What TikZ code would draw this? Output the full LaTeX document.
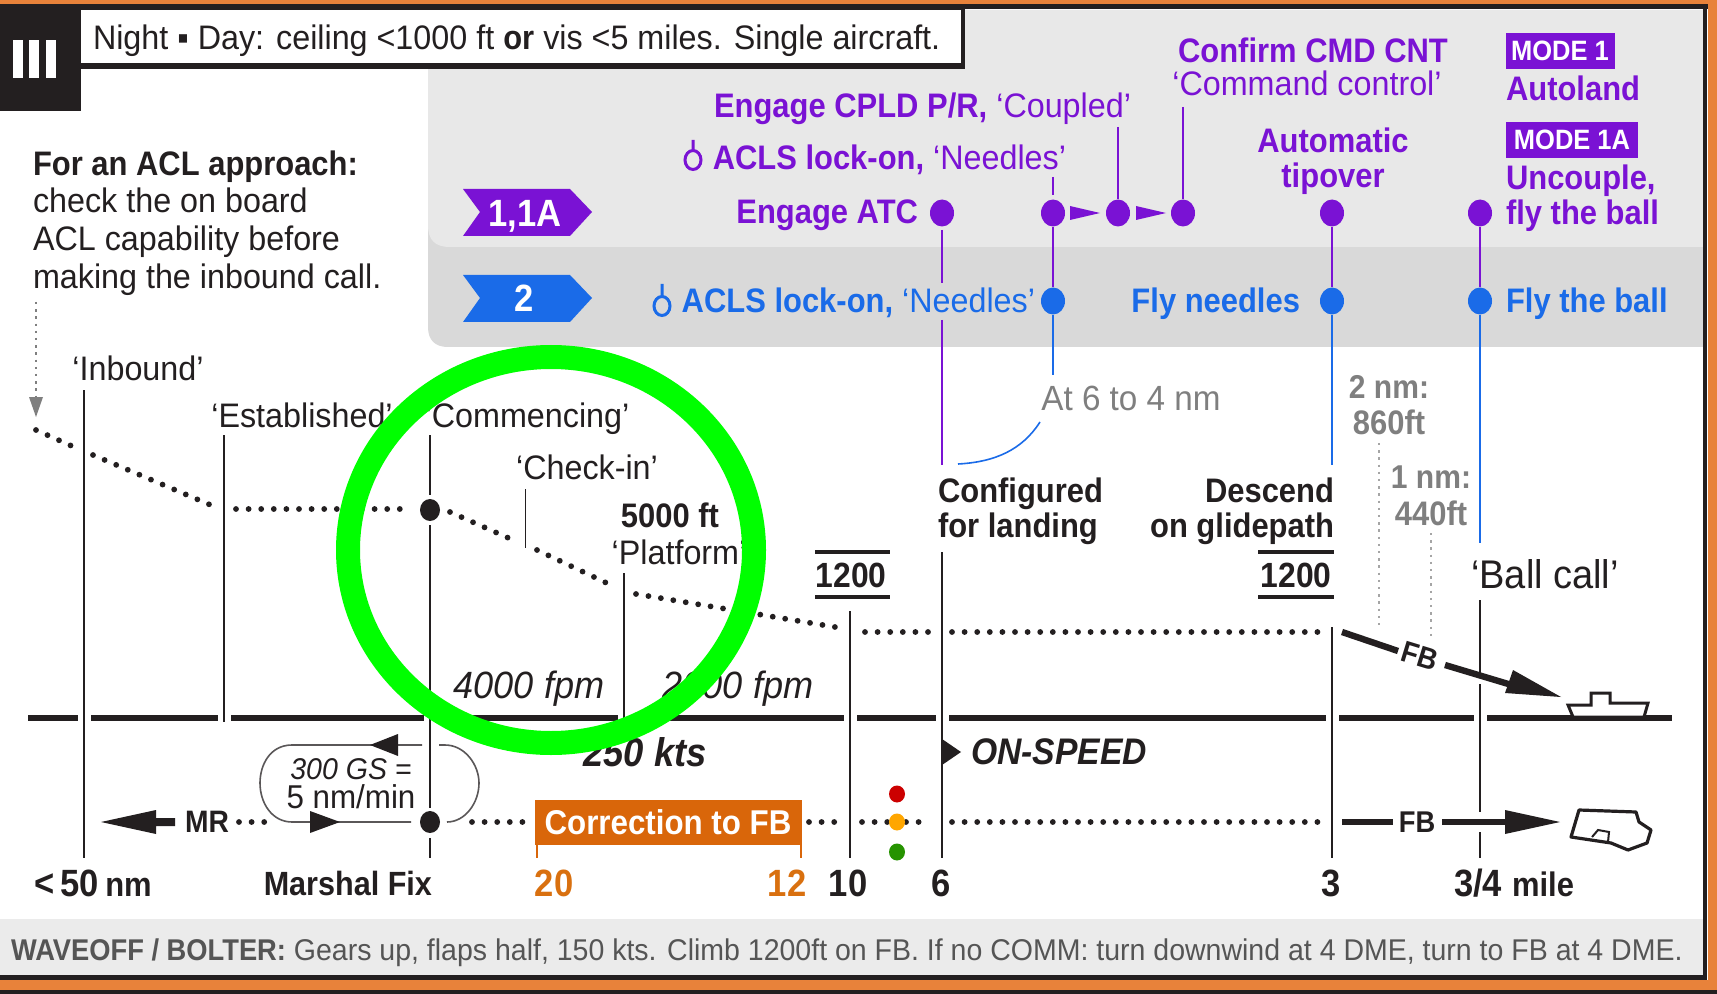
\documentclass[tikz,border=0pt]{standalone}
\usepackage{fontspec}
\setmainfont{Liberation Sans}[FakeStretch=0.95,BoldFeatures={FakeStretch=0.91},BoldItalicFeatures={FakeStretch=0.91}]
\usetikzlibrary{shapes.geometric}
\definecolor{frameor}{HTML}{E8823A}
\definecolor{ink}{HTML}{231F20}
\definecolor{pur}{HTML}{7A12D4}
\definecolor{blu}{HTML}{1A6BE8}
\definecolor{panA}{HTML}{E8E8E8}
\definecolor{panB}{HTML}{D9D9D9}
\definecolor{boxor}{HTML}{D9660A}
\definecolor{numor}{HTML}{D9700F}
\definecolor{gry}{HTML}{7F7F7F}
\definecolor{barg}{HTML}{EBEBEB}
\definecolor{bartxt}{HTML}{555555}
\definecolor{ringg}{HTML}{00FF00}
\newcommand\fs[1]{\fontsize{#1}{#1}\selectfont}
\newcommand\vln[5]{\coordinate (#1t) at (#2,#3);\coordinate (#1b) at (#2,#4);\draw[#5] (#1t) -- (#1b);}
\tikzset{
  x=0.5pt,y=-0.5pt,
  lab/.style={inner sep=0pt,outer sep=0pt,text=ink,text depth=0pt,font=\fs{17}},
  plab/.style={lab,text=pur},
  blab/.style={lab,text=blu},
  vline/.style={draw=ink,line width=0.8pt},
  pline/.style={draw=pur,line width=0.8pt},
  bline/.style={draw=blu,line width=0.8pt},
  dots/.style={draw=ink,line width=2.9pt,line cap=round,dash pattern=on 0pt off 6.3pt},
  pdot/.style={ellipse,fill=pur,minimum width=12pt,minimum height=13.5pt,inner sep=0pt},
  bdot/.style={ellipse,fill=blu,minimum width=12pt,minimum height=13.5pt,inner sep=0pt},
  kdot/.style={ellipse,fill=ink,minimum width=10pt,minimum height=11pt,inner sep=0pt},
  gdots/.style={draw=gry!70,line width=0.9pt,dash pattern=on 1.2pt off 2.4pt},
  barr/.style={draw=ink,line width=1.7pt},
}
\begin{document}
\begin{tikzpicture}
\useasboundingbox (0,0) rectangle (1717,994);
\fill[white] (0,0) rectangle (1717,994);
% panels
\fill[panB] (428,180) -- (428,327) .. controls (428,340) and (435,347) .. (448,347) -- (1703,347) -- (1703,180) -- cycle;
\fill[panA] (428,60) -- (428,225) .. controls (428,240) and (435,247) .. (450,247) -- (1703,247) -- (1703,10) -- (960,10) -- (960,60) -- cycle;
% bottom bar
\fill[barg] (0,919) rectangle (1703,975);
% frame
\fill[ink] (0,4) rectangle (1717,9);
\fill[ink] (0,975) rectangle (1707,980);
\fill[ink] (1703,4) rectangle (1707,980);
\fill[frameor] (0,0) rectangle (1717,4);
\fill[frameor] (1708,0) rectangle (1717,990);
\fill[frameor] (0,980) rectangle (1717,990);
\fill[ink] (0,990) rectangle (1717,994);
% header
\fill[ink] (81,5) rectangle (965,69);
\fill[white] (81,10) rectangle (961,63);
\fill[ink] (0,5) rectangle (81,111);
\foreach \xx in {13,29,46} \fill[white] (\xx,40) rectangle +(10,38);
\node[lab,anchor=west] (head) at (93,37) {Night ▪ Day: ceiling <1000 ft \textbf{or} vis <5 miles. Single aircraft.};
% left note
\node[lab,anchor=west] (n1) at (33,163) {\textbf{For an ACL approach:}};
\node[lab,anchor=west] (n2) at (33,200) {check the on board};
\node[lab,anchor=west] (n3) at (33,238) {ACL capability before};
\node[lab,anchor=west] (n4) at (33,276) {making the inbound call.};
\coordinate (gs) at (36,302); \coordinate (ge) at (36,397);
\draw[gdots,draw=gry,line width=1pt] (gs) -- (ge);
\fill[gry] (29,397) -- (43,397) -- (36,417) -- cycle;
% ground
\coordinate (gl) at (28,718); \coordinate (gr) at (1672,718);
\draw[ink,line width=3.2pt] (gl) -- (gr);
\foreach \xx in {84,224,430,624,850,942,1332,1480} \fill[white] (\xx-6.5,712) rectangle (\xx+6.5,724);
% profile
\coordinate (p1) at (36,430);\coordinate (p2) at (74,447);\coordinate (p3) at (93,455);\coordinate (p4) at (213,506);
\coordinate (p5) at (236,509);\coordinate (p6) at (412,509);\coordinate (p7) at (450,512);\coordinate (p8) at (513,540);
\coordinate (p9) at (537,550);\coordinate (p10) at (613,586);\coordinate (p11) at (636,594);\coordinate (p12) at (841,628);
\coordinate (p13) at (865,632);\coordinate (p14) at (931,632);\coordinate (p15) at (952,632);\coordinate (p16) at (1322,632);
\foreach \a/\b in {p1/p2,p3/p4,p5/p6,p7/p8,p9/p10,p11/p12,p13/p14,p15/p16} \draw[dots] (\a) -- (\b);
% lower track dots
\coordinate (q1) at (239,822);\coordinate (q2) at (269,822);\coordinate (q3) at (472,822);\coordinate (q4) at (529,822);
\coordinate (q5) at (809,822);\coordinate (q6) at (842,822);\coordinate (q7) at (862,822);\coordinate (q8) at (888,822);
\coordinate (q9) at (906,822);\coordinate (q10) at (931,822);\coordinate (q11) at (952,822);\coordinate (q12) at (1322,822);
\foreach \a/\b in {q1/q2,q3/q4,q5/q6,q7/q8,q9/q10,q11/q12} \draw[dots] (\a) -- (\b);
% loop
\coordinate (la) at (422,745);\coordinate (lb) at (411,822);\coordinate (lc) at (439,745);\coordinate (ld) at (447,822);
\draw[draw=ink!75,line width=0.8pt] (la) -- (292,745) .. controls (270,745) and (260,765) .. (260,783) .. controls (260,803) and (272,822) .. (292,822) -- (lb);
\draw[draw=ink!75,line width=0.8pt] (lc) -- (445,745) .. controls (465,745) and (479,765) .. (479,783) .. controls (479,803) and (465,822) .. (ld);
\fill[ink] (398,734) -- (398,756) -- (370,745) -- cycle;
\fill[ink] (310,811) -- (310,833) -- (340,822) -- cycle;
\node[lab,font=\fs{15}\itshape] (gs1) at (351,769) {300 GS =};
\node[lab,font=\fs{16.5}] (gs2) at (351,797) {5 nm/min};
% verticals
\vln{v1}{84}{390}{858}{vline}
\vln{v2}{224}{435}{722}{vline}
\vln{v3}{430}{435}{495}{vline}
\vln{v3m}{430}{525}{808}{vline}
\vln{v3l}{430}{838}{858}{vline}
\vln{v4}{525.5}{489}{548}{vline}
\vln{v5}{624}{573}{722}{vline}
\vln{v6}{850}{611}{858}{vline}
\vln{v7}{942}{552}{858}{vline}
\vln{v8}{1332}{627}{858}{vline}
\vln{v9}{1480}{600}{678}{vline}
\vln{v9a}{1480}{684}{812}{vline}
\vln{v9b}{1480}{832}{858}{vline}
\node[kdot] (mk1) at (430,510) {};
\node[kdot] (mk2) at (430,822) {};
% purple / blue events
\node[pdot] (a1) at (942,213) {};
\node[pdot] (a2) at (1053,213) {};
\node[pdot] (a3) at (1118,213) {};
\node[pdot] (a4) at (1183,213) {};
\node[pdot] (a5) at (1332,213) {};
\node[pdot] (a6) at (1480,213) {};
\node[bdot] (b2) at (1053,301) {};
\node[bdot] (b5) at (1332,301) {};
\node[bdot] (b6) at (1480,301) {};
\coordinate (a1b) at (942,230);\coordinate (a1c) at (942,465);
\draw[pline] (a1b) -- (942,283);
\draw[pline] (942,320) -- (a1c);
\coordinate (a2s) at (1053,177);\coordinate (a2e) at (1053,195);
\draw[pline] (a2s) -- (a2e);
\coordinate (a3s) at (1118,127);\coordinate (a4s) at (1183,107);
\draw[pline] (a3s) -- (a3.north);
\draw[pline] (a4s) -- (a4.north);
\draw[pline] (a2) -- (b2);
\draw[pline] (a5) -- (b5);
\draw[pline] (a6) -- (b6);
\coordinate (b2e) at (1053,375);\coordinate (b5e) at (1332,465);\coordinate (b6e) at (1480,543);
\draw[bline] (b2) -- (b2e);
\draw[bline] (b5) -- (b5e);
\draw[bline] (b6) -- (b6e);
\coordinate (cu1) at (1040,422);\coordinate (cu2) at (958,464);
\draw[bline] (cu1) .. controls (1022,450) and (995,462) .. (cu2);
\fill[pur] (1070,206) -- (1070,220) -- (1100,213) -- cycle;
\fill[pur] (1136,206) -- (1136,220) -- (1166,213) -- cycle;
% badges
\fill[pur] (463,189) -- (570,189) -- (592,212) -- (570,236) -- (463,236) -- (480,212) -- cycle;
\fill[blu] (463,275) -- (570,275) -- (592,298) -- (570,322) -- (463,322) -- (480,298) -- cycle;
\node[lab,text=white,font=\fs{19}\bfseries] (bd1) at (525,213) {1,1A};
\node[lab,text=white,font=\fs{19}\bfseries] (bd2) at (524,298) {2};
% ring icons
\draw[pur,line width=1.5pt] (693,160) ellipse[x radius=8,y radius=9.5] (693,140) -- (693,151);
\draw[blu,line width=1.5pt] (662,306) ellipse[x radius=8,y radius=9.5] (662,284) -- (662,297);
% purple text
\node[plab] (c1) at (1313,50) {\textbf{Confirm CMD CNT}};
\node[plab] (c2) at (1307,83) {‘Command control’};
\node[plab,anchor=east] (c3) at (1131,105) {\textbf{Engage CPLD P/R,} ‘Coupled’};
\node[plab,anchor=east] (c4) at (1066,157) {\textbf{ACLS lock-on,} ‘Needles’};
\node[plab,anchor=east] (c5) at (918,212) {\textbf{Engage ATC}};
\node[plab] (c6) at (1333,140) {\textbf{Automatic}};
\node[plab] (c7) at (1333,175) {\textbf{tipover}};
\fill[pur] (1506,33) rectangle (1615,69);
\node[lab,text=white,font=\fs{14}\bfseries] (m1) at (1560,51) {MODE 1};
\fill[pur] (1506,122) rectangle (1638,158);
\node[lab,text=white,font=\fs{14}\bfseries] (m2) at (1572,140) {MODE 1A};
\node[plab,anchor=west] (c8) at (1506,88) {\textbf{Autoland}};
\node[plab,anchor=west] (c9) at (1506,177) {\textbf{Uncouple,}};
\node[plab,anchor=west] (c10) at (1506,212) {\textbf{fly the ball}};
% blue text
\node[blab,anchor=east] (d1) at (1035,300) {\textbf{ACLS lock-on,} ‘Needles’};
\node[blab,anchor=east] (d2) at (1300,300) {\textbf{Fly needles}};
\node[blab,anchor=west] (d3) at (1506,300) {\textbf{Fly the ball}};
% grey text
\node[lab,text=gry,font=\fs{17.5}] (g1) at (1131,398) {At 6 to 4 nm};
\node[lab,text=gry,font=\fs{16.5}\bfseries] (g2) at (1389,387) {2 nm:};
\node[lab,text=gry,font=\fs{17}\bfseries] (g3) at (1389,422) {860ft};
\node[lab,text=gry,font=\fs{16.5}\bfseries] (g4) at (1431,477) {1 nm:};
\node[lab,text=gry,font=\fs{17}\bfseries] (g5) at (1431,513) {440ft};
\coordinate (g3s) at (1379,443);\coordinate (g5s) at (1431,533);
\coordinate (g3e) at (1379,628);\coordinate (g5e) at (1431,640);
\draw[gdots] (g3s) -- (g3e);
\draw[gdots] (g5s) -- (g5e);
% black labels
\node[lab] (e1) at (138,368) {‘Inbound’};
\node[lab] (e2) at (302,415) {‘Established’};
\node[lab] (e3) at (527,415) {‘Commencing’};
\node[lab] (e4) at (587,467) {‘Check-in’};
\node[lab] (e5) at (670,515) {\textbf{5000 ft}};
\node[lab] (e6) at (679,552) {‘Platform’};
\node[lab,anchor=west] (e7) at (938,490) {\textbf{Configured}};
\node[lab,anchor=west] (e8) at (938,525) {\textbf{for landing}};
\node[lab,anchor=east] (e9) at (1334,490) {\textbf{Descend}};
\node[lab,anchor=east] (e10) at (1334,525) {\textbf{on glidepath}};
\node[lab,font=\fs{20}] (e11) at (1545,574) {‘Ball call’};
% 1200 blocks
\node[lab,font=\fs{17.5}\bfseries] (h1) at (851,575) {1200};
\node[lab,font=\fs{17.5}\bfseries] (h2) at (1296,575) {1200};
\draw[barr] (815,552) -- (890,552) (815,597) -- (890,597);
\draw[barr] (1258,552) -- (1334,552) (1258,597) -- (1334,597);
% fpm and speeds
\node[lab,font=\fs{19}\itshape] (f1) at (529,685) {4000 fpm};
\node[lab,font=\fs{19}\itshape] (f2) at (738,685) {2000 fpm};
\node[lab,font=\fs{20}\bfseries\itshape] (f3) at (645,752) {250 kts};
\fill[ink] (942,739) -- (961,752) -- (942,765) -- cycle;
\node[lab,anchor=west,font=\fs{18.5}\bfseries\itshape] (f4) at (971,752) {ON-SPEED};
% correction box
\fill[boxor] (535,800) rectangle (802,845);
\node[lab,text=white,font=\fs{17.2}\bfseries] (cb) at (668,822) {Correction to FB};
\draw[boxor,line width=1pt] (536.5,845) -- (536.5,858) (801,845) -- (801,858);
% MR arrow
\fill[ink] (101,822) -- (156,810) -- (156,818) -- (175,818) -- (175,826) -- (156,826) -- (156,834) -- cycle;
\node[lab,font=\fs{15.5}\bfseries] (mr) at (207,822) {MR};
% lights
\fill[red!80!black] (897,794) ellipse[x radius=8,y radius=8.5];
\fill[orange!70!yellow] (897,822) ellipse[x radius=8,y radius=8.5];
\fill[green!50!black!85!yellow] (897,852) ellipse[x radius=8,y radius=8.5];
% lower FB arrow
\coordinate (fa) at (1342,822);\coordinate (fb) at (1393,822);\coordinate (fc) at (1442,822);\coordinate (fd) at (1510,822);
\draw[ink,line width=3.2pt] (fa) -- (fb) (fc) -- (fd);
\fill[ink] (1505,810) -- (1560,822) -- (1505,834) -- cycle;
\node[lab,font=\fs{15}\bfseries] (fbt) at (1417,822) {FB};
% upper FB arrow
\coordinate (ua) at (1342,632);\coordinate (ub) at (1398,651);\coordinate (uc) at (1445,665);\coordinate (ud) at (1515,686);
\draw[ink,line width=3.2pt] (ua) -- (ub) (uc) -- (ud);
\fill[ink] (1513,670) -- (1561,697) -- (1505,693) -- cycle;
\node[lab,font=\fs{15}\bfseries,rotate=-17] (fbu) at (1420,656) {FB};
% ship profile
\draw[ink,line width=1.5pt,fill=white] (1568,705) -- (1591,705) -- (1591,693) -- (1610,693) -- (1610,703) -- (1648,703) -- (1644,717) -- (1573,717) -- cycle;
% ship plan
\draw[ink,line width=1.6pt,line join=round] (1579,810) -- (1636,812) -- (1639,822) -- (1651,830) -- (1647,843) -- (1628,850) -- (1611,843) -- (1571,837) -- cycle;
\draw[ink,line width=1pt] (1592,837) -- (1598,830) -- (1609,832) -- (1608,842);
% distance labels
\node[lab,anchor=west] (k1) at (34,883) {\fs{19}\textbf{<\,50}\,\fs{17}\textbf{nm}};
\node[lab,font=\fs{16.8}\bfseries,anchor=east] (k2) at (432,883) {Marshal Fix};
\node[lab,text=numor,font=\fs{19}\bfseries] (k3) at (554,883) {20};
\node[lab,text=numor,font=\fs{19}\bfseries] (k4) at (787,883) {12};
\node[lab,font=\fs{19}\bfseries] (k5) at (848,883) {10};
\node[lab,font=\fs{19}\bfseries] (k6) at (941,883) {6};
\node[lab,font=\fs{19}\bfseries] (k7) at (1331,883) {3};
\node[lab,anchor=west] (k8) at (1454,883) {\fs{19}\textbf{3/4} \fs{17}\textbf{mile}};
% bottom text
\node[lab,anchor=west,text=bartxt,font=\fs{15}] (w) at (11,950) {\textbf{WAVEOFF / BOLTER:} Gears up, flaps half, 150 kts. Climb 1200ft on FB. If no COMM: turn downwind at 4 DME, turn to FB at 4 DME.};
% annotation ring
\draw[draw=ringg,line width=12pt] (551,550) ellipse[x radius=203,y radius=193];
\end{tikzpicture}
\end{document}
